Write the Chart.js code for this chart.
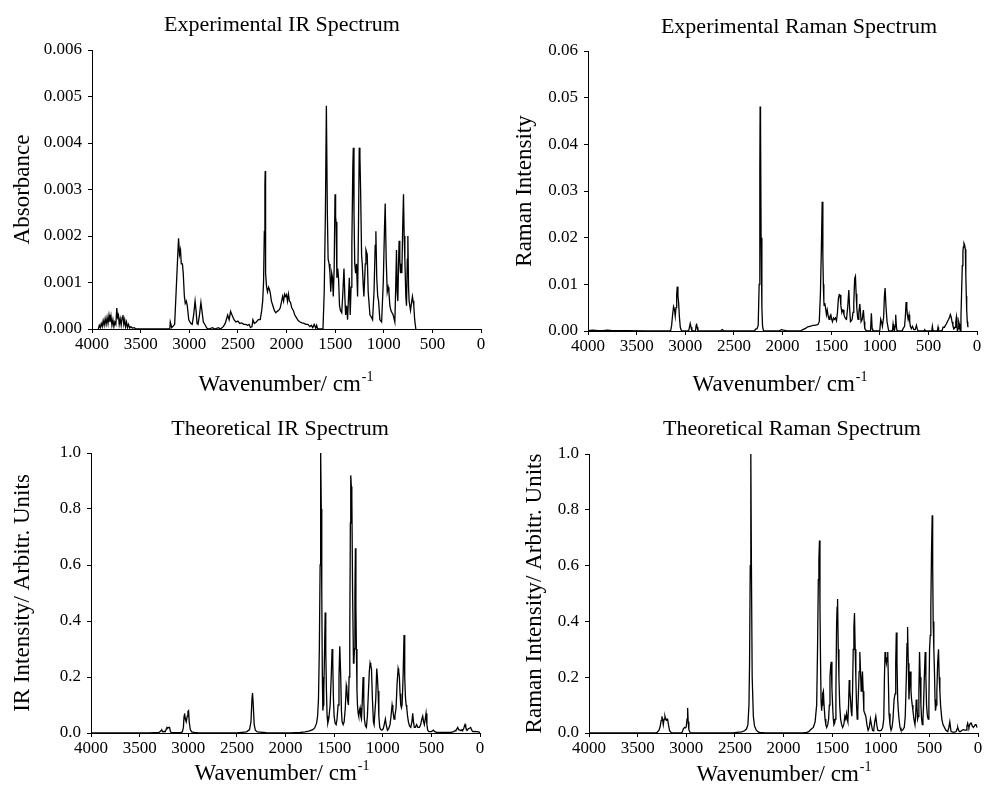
<!DOCTYPE html>
<html>
<head>
<meta charset="utf-8">
<script src="https://cdn.jsdelivr.net/npm/chart.js@4.4.1/dist/chart.umd.min.js"></script>
<style>
  body { margin: 0; background: #fff; }
  #wrap { position: relative; width: 984px; height: 792px; }
  canvas { position: absolute; }
</style>
</head>
<body>
<div id="wrap">
  <canvas id="c1" width="492" height="396" style="left:0;top:0"></canvas>
  <canvas id="c2" width="492" height="396" style="left:492px;top:0"></canvas>
  <canvas id="c3" width="492" height="396" style="left:0;top:396px"></canvas>
  <canvas id="c4" width="492" height="396" style="left:492px;top:396px"></canvas>
</div>
<script>
// x axis, shared by all four panels
var xTicks = [0, 500, 1000, 1500, 2000, 2500, 3000, 3500, 4000];
var xTickLabels = ['0', '500', '1000', '1500', '2000', '2500', '3000', '3500', '4000'];

var absTicks = [0, 0.001, 0.002, 0.003, 0.004, 0.005, 0.006];
var absTickLabels = ['0.000', '0.001', '0.002', '0.003', '0.004', '0.005', '0.006'];
var ramanTicks = [0, 0.01, 0.02, 0.03, 0.04, 0.05, 0.06];
var ramanTickLabels = ['0.00', '0.01', '0.02', '0.03', '0.04', '0.05', '0.06'];
var unitTicks = [0, 0.2, 0.4, 0.6, 0.8, 1.0];
var unitTickLabels = ['0.0', '0.2', '0.4', '0.6', '0.8', '1.0'];

var panelTitles = ['Experimental IR Spectrum', 'Experimental Raman Spectrum', 'Theoretical IR Spectrum', 'Theoretical Raman Spectrum'];
var yTitles = ['Absorbance', 'Raman Intensity', 'IR Intensity/ Arbitr. Units', 'Raman Intensity/ Arbitr. Units'];

// [wavenumber, value]
var expIrSpectrum = [
  [3935,0],[3925,0.00008],[3915,0.00003],[3905,0.00012],[3895,0.00005],[3885,0.00018],[3875,0.00008],
  [3865,0.00022],[3855,0.0001],[3845,0.00025],[3835,0.00012],[3825,0.0003],[3815,0.00015],[3805,0.00028],
  [3795,0.00008],[3785,0.0002],[3775,0.00005],[3765,0.00015],[3755,0.0001],[3745,0.00045],[3737,0.00025],
  [3728,0.0003],[3720,0.0001],[3710,0.00022],[3700,0.00008],[3690,0.00025],[3682,0.0003],[3673,0.0001],
  [3664,0.0002],[3655,0.00005],[3645,0.00015],[3635,0.00003],[3625,0.0001],[3612,0.00002],[3600,0.00005],
  [3585,0.00002],[3565,0.00003],[3550,0],
  [3200,0],[3195,0.00015],[3180,0.00003],[3150,0.0001],[3135,0.0008],[3120,0.0015],[3110,0.00195],
  [3100,0.0016],[3090,0.0017],[3082,0.0014],[3070,0.0014],[3062,0.0012],[3050,0.0007],[3041,0.00055],
  [3030,0.0006],[3020,0.0005],[3005,0.0002],[2985,0.00012],[2970,0.0001],[2955,0.0003],[2940,0.0006],
  [2930,0.0004],[2920,0.00012],[2910,0.0001],[2895,0.0003],[2880,0.00057],[2870,0.0004],[2855,0.00015],
  [2835,0.00008],[2820,0.00002],[2800,0],[2760,0.00003],[2740,0],[2700,0.00003],[2680,0],[2650,0.00005],
  [2630,0.00012],[2605,0.0003],[2590,0.0002],[2575,0.00038],[2560,0.0003],[2540,0.0002],[2520,0.00015],
  [2500,0.00017],[2480,0.00012],[2460,0.00013],[2440,0.0001],[2420,0.0001],[2400,0.00008],[2385,0.0001],
  [2370,0.00003],[2355,0.00005],[2345,0.0002],[2330,0.00012],[2310,0.00015],[2290,0.0002],[2270,0.0002],
  [2255,0.0004],[2245,0.0006],[2236,0.001],[2228,0.0021],[2222,0.0031],[2219,0.0034],[2215,0.0012],
  [2205,0.0009],[2195,0.0008],[2185,0.0009],[2175,0.00085],[2165,0.00075],[2155,0.0006],[2140,0.0005],
  [2125,0.0004],[2110,0.00035],[2095,0.00038],[2080,0.0004],[2065,0.00045],[2050,0.0006],[2040,0.0007],
  [2030,0.0006],[2020,0.00075],[2010,0.0007],[2000,0.00074],[1990,0.0006],[1980,0.00075],[1970,0.0006],
  [1960,0.00058],[1945,0.00045],[1930,0.0004],[1915,0.0003],[1900,0.00025],[1880,0.00018],[1860,0.00015],
  [1840,0.00013],[1820,0.00012],[1800,0.0001],[1780,0.0001],[1760,0.00005],[1745,0.00008],[1730,0.00003],
  [1715,0.0001],[1700,0.00002],[1690,0.00008],[1680,0],[1625,0],
  [1612,0.0008],[1600,0.0025],[1590,0.0048],[1580,0.0025],[1572,0.0015],[1562,0.0014],[1553,0.0012],
  [1545,0.0008],[1535,0.0012],[1527,0.0011],[1519,0.0007],[1510,0.0013],[1501,0.0029],[1495,0.0024],
  [1490,0.0023],[1482,0.0011],[1473,0.0013],[1465,0.0011],[1455,0.0005],[1445,0.0004],[1432,0.00035],
  [1420,0.0008],[1409,0.0013],[1400,0.0007],[1392,0.0003],[1382,0.0005],[1372,0.0002],[1362,0.0007],
  [1354,0.0011],[1345,0.0003],[1336,0.0009],[1328,0.0018],[1318,0.0035],[1313,0.0039],[1306,0.0025],
  [1298,0.0014],[1289,0.0012],[1280,0.0014],[1269,0.0007],[1260,0.0022],[1252,0.0039],[1245,0.0037],
  [1238,0.003],[1228,0.0016],[1221,0.0014],[1210,0.0009],[1204,0.0007],[1190,0.0014],[1183,0.0017],
  [1170,0.0016],[1160,0.0008],[1142,0.0003],[1125,0.00025],[1115,0.0002],[1100,0.0008],[1088,0.0018],
  [1081,0.0021],[1072,0.0011],[1062,0.0007],[1053,0.0006],[1040,0.0002],[1022,0.00015],[1005,0.001],
  [992,0.0022],[985,0.0027],[975,0.0015],[964,0.0008],[955,0.0009],[947,0.0008],[937,0.0005],[927,0.0004],
  [915,0.00035],[903,0.0003],[886,0.00015],[878,0.0008],[869,0.0017],[862,0.0008],[855,0.0006],
  [848,0.0014],[842,0.0019],[835,0.0015],[828,0.0012],[820,0.0014],[814,0.0012],[805,0.0022],[797,0.0029],
  [790,0.002],[783,0.0015],[773,0.0007],[766,0.0005],[758,0.0015],[752,0.002],[745,0.0009],[739,0.0006],
  [725,0.0004],[712,0.0006],[705,0.0007],[698,0.0006],[691,0.0005],[682,0.0002],[670,0]
];

var expRamanSpectrum = [
  [4000,0.0001],[3950,0.0002],[3900,0.0001],[3850,0.0001],[3800,0.0002],[3750,0.0001],[3700,0.0001],
  [3600,0.00005],[3400,0.00002],[3200,0.00002],[3150,0.0001],[3140,0.0012],[3130,0.0035],[3120,0.0052],
  [3110,0.0045],[3103,0.0032],[3095,0.005],[3088,0.0078],[3082,0.0095],[3075,0.0075],[3068,0.006],
  [3060,0.003],[3051,0.0008],[3040,0.0001],[2965,0],[2955,0.001],[2949,0.0016],[2940,0.0008],[2932,0],
  [2895,0],[2888,0.0012],[2884,0.0016],[2877,0.0008],[2870,0],[2640,0],[2620,0.0003],[2600,0],
  [2290,0],[2275,0.0004],[2262,0.0005],[2250,0.0012],[2240,0.01],[2233,0.035],[2230,0.0481],[2226,0.045],
  [2220,0.02],[2212,0.005],[2205,0.001],[2195,0],[2040,0],[2010,0.0003],[1990,0.0002],[1960,0.0001],
  [1900,0],[1810,0.0001],[1780,0.0004],[1760,0.0006],[1740,0.0009],[1720,0.001],[1700,0.0011],
  [1690,0.0012],[1670,0.0012],[1650,0.0013],[1635,0.0014],[1622,0.002],[1610,0.008],[1600,0.018],
  [1592,0.0277],[1585,0.016],[1580,0.01],[1575,0.0065],[1572,0.0055],[1565,0.006],[1558,0.005],
  [1548,0.0035],[1540,0.0045],[1534,0.0045],[1528,0.003],[1521,0.0025],[1512,0.0032],[1503,0.0035],
  [1494,0.0025],[1486,0.002],[1476,0.0028],[1466,0.0025],[1456,0.0028],[1445,0.0022],[1435,0.004],
  [1425,0.007],[1416,0.0078],[1408,0.0077],[1400,0.0055],[1390,0.004],[1383,0.0045],[1377,0.0045],
  [1368,0.0035],[1360,0.003],[1350,0.0026],[1342,0.0025],[1330,0.005],[1318,0.0088],[1310,0.005],
  [1301,0.002],[1292,0.0022],[1284,0.0025],[1275,0.004],[1267,0.006],[1258,0.0112],[1250,0.0117],
  [1243,0.008],[1236,0.005],[1228,0.003],[1223,0.0025],[1215,0.004],[1205,0.0058],[1198,0.004],
  [1192,0.002],[1180,0.0025],[1168,0.0045],[1160,0.002],[1154,0.0005],[1137,0],[1095,0],[1086,0.0038],
  [1078,0.0005],[1072,0],[1000,0],[990,0.0025],[980,0.0018],[973,0.001],[960,0.003],[952,0.0075],
  [945,0.0092],[935,0.005],[925,0.002],[910,0.0002],[904,0],[870,0],[863,0.0015],[855,0.0003],[849,0],
  [842,0.001],[836,0.0035],[829,0.001],[822,0],[770,0],[760,0.0005],[745,0.001],[737,0.003],[729,0.0062],
  [722,0.005],[716,0.0035],[708,0.0025],[699,0.0035],[692,0.002],[685,0.001],[675,0.0005],[664,0.001],
  [650,0.0003],[635,0.0003],[623,0.0012],[615,0.0005],[606,0],[545,0],[538,0.0003],[530,0],[465,0],
  [459,0.001],[452,0],[408,0],[401,0.0008],[395,0],[360,0],[349,0.0008],[335,0.0008],[325,0.0012],
  [315,0.0015],[305,0.002],[291,0.0025],[282,0.003],[274,0.0035],[266,0.003],[257,0.002],[248,0.0012],
  [236,0.0005],[225,0.0008],[218,0.002],[212,0.003],[206,0.0015],[202,0],[194,0.0005],[188,0.002],
  [182,0.0015],[176,0.0004],[171,0],[165,0.003],[158,0.0085],[151,0.014],[145,0.017],[140,0.018],
  [134,0.0188],[128,0.0185],[120,0.0175],[115,0.012],[110,0.0075],[106,0.0045],[100,0.002],[95,0.001],
  [89,0.0008]
];

var theoIrSpectrum = [
  [4000,0],[3400,0],[3300,0.002],[3280,0.008],[3271,0.01],[3260,0.004],[3245,0.006],[3237,0.005],
  [3225,0.015],[3219,0.02],[3210,0.018],[3200,0.02],[3192,0.02],[3185,0.008],[3175,0.001],[3080,0.001],
  [3060,0.004],[3050,0.02],[3043,0.06],[3038,0.07],[3030,0.05],[3021,0.04],[3010,0.06],[3003,0.078],
  [2997,0.08],[2990,0.04],[2979,0.012],[2965,0.004],[2940,0.002],[2900,0.001],[2700,0],[2500,0],
  [2450,0.002],[2400,0.004],[2370,0.012],[2355,0.04],[2345,0.12],[2339,0.143],[2333,0.11],[2322,0.03],
  [2310,0.01],[2290,0.004],[2230,0.002],[2200,0.001],[2100,0],[1950,0],[1900,0.001],[1849,0.002],
  [1800,0.004],[1760,0.007],[1720,0.012],[1700,0.018],[1680,0.035],[1670,0.06],[1661,0.12],[1652,0.3],
  [1644,0.6],[1640,0.9],[1637,1.0],[1632,0.8],[1627,0.5],[1621,0.2],[1616,0.08],[1611,0.1],[1606,0.15],
  [1598,0.3],[1592,0.43],[1586,0.3],[1579,0.15],[1572,0.06],[1565,0.035],[1555,0.05],[1541,0.1],
  [1530,0.2],[1521,0.3],[1514,0.25],[1507,0.12],[1500,0.06],[1490,0.035],[1479,0.03],[1470,0.05],
  [1459,0.1],[1450,0.2],[1442,0.31],[1432,0.2],[1425,0.08],[1418,0.04],[1407,0.03],[1397,0.04],
  [1385,0.09],[1375,0.17],[1370,0.16],[1362,0.12],[1353,0.1],[1346,0.2],[1339,0.35],[1333,0.75],
  [1329,0.92],[1323,0.88],[1318,0.85],[1310,0.5],[1301,0.25],[1296,0.26],[1291,0.3],[1286,0.5],
  [1281,0.66],[1276,0.45],[1271,0.3],[1265,0.15],[1260,0.1],[1253,0.07],[1247,0.06],[1240,0.08],
  [1233,0.09],[1226,0.06],[1219,0.05],[1212,0.1],[1202,0.2],[1195,0.12],[1189,0.05],[1178,0.025],
  [1168,0.02],[1158,0.06],[1147,0.15],[1138,0.22],[1130,0.25],[1123,0.24],[1116,0.23],[1106,0.12],
  [1096,0.04],[1089,0.03],[1082,0.03],[1072,0.12],[1062,0.23],[1055,0.2],[1048,0.15],[1040,0.06],
  [1031,0.02],[1020,0.012],[1010,0.01],[995,0.015],[985,0.03],[973,0.05],[965,0.03],[952,0.01],
  [940,0.015],[925,0.03],[915,0.06],[904,0.1],[896,0.08],[884,0.05],[875,0.06],[863,0.09],[852,0.18],
  [842,0.23],[836,0.22],[829,0.2],[822,0.14],[815,0.1],[808,0.09],[801,0.1],[791,0.2],[781,0.35],
  [774,0.2],[767,0.13],[760,0.1],[753,0.09],[745,0.06],[736,0.04],[725,0.025],[712,0.02],[700,0.04],
  [692,0.07],[684,0.04],[675,0.02],[665,0.02],[651,0.03],[640,0.02],[623,0.02],[610,0.03],[598,0.05],
  [589,0.06],[580,0.04],[572,0.03],[563,0.05],[555,0.07],[546,0.03],[538,0.01],[525,0.005],[500,0.005],
  [479,0.01],[465,0.005],[445,0.002],[400,0.002],[350,0.002],[300,0.002],[270,0.005],[255,0.008],
  [247,0.01],[238,0.015],[229,0.02],[220,0.012],[205,0.01],[195,0.008],[185,0.012],[178,0.01],
  [168,0.015],[160,0.025],[154,0.03],[146,0.02],[138,0.012],[130,0.01],[120,0.015],[105,0.018],
  [96,0.02],[85,0.01],[75,0.005],[55,0.006],[34,0.005],[15,0.004],[0,0.002]
];

var theoRamanSpectrum = [
  [4000,0],[3320,0],[3300,0.002],[3280,0.01],[3267,0.025],[3258,0.045],[3250,0.06],[3242,0.045],
  [3236,0.03],[3228,0.05],[3219,0.06],[3212,0.05],[3205,0.045],[3198,0.05],[3192,0.05],[3183,0.03],
  [3171,0.008],[3154,0.001],[3100,0],[3050,0.001],[3041,0.003],[3030,0.015],[3017,0.02],[3008,0.018],
  [3000,0.022],[2992,0.05],[2986,0.09],[2980,0.04],[2973,0.012],[2960,0.002],[2950,0],[2520,0],
  [2480,0.002],[2430,0.004],[2400,0.008],[2380,0.015],[2366,0.03],[2355,0.1],[2349,0.25],[2342,0.6],
  [2336,1.0],[2330,0.6],[2322,0.2],[2310,0.06],[2298,0.025],[2280,0.01],[2260,0.004],[2247,0.002],
  [2200,0.001],[2100,0],[1800,0],[1761,0.002],[1740,0.005],[1727,0.01],[1710,0.015],[1693,0.02],
  [1675,0.04],[1659,0.1],[1650,0.3],[1642,0.55],[1636,0.62],[1630,0.69],[1625,0.45],[1619,0.25],
  [1614,0.12],[1608,0.08],[1604,0.1],[1598,0.14],[1590,0.15],[1583,0.1],[1573,0.05],[1565,0.03],
  [1556,0.02],[1545,0.03],[1536,0.05],[1529,0.1],[1522,0.2],[1515,0.24],[1509,0.255],[1502,0.16],
  [1495,0.1],[1488,0.05],[1481,0.03],[1474,0.035],[1468,0.05],[1461,0.15],[1454,0.39],[1449,0.45],
  [1444,0.48],[1437,0.3],[1430,0.2],[1422,0.1],[1413,0.05],[1402,0.03],[1392,0.02],[1380,0.03],
  [1369,0.06],[1360,0.05],[1352,0.07],[1345,0.05],[1338,0.04],[1331,0.1],[1324,0.19],[1318,0.15],
  [1311,0.12],[1304,0.08],[1297,0.06],[1290,0.15],[1283,0.3],[1276,0.38],[1270,0.43],[1263,0.3],
  [1256,0.2],[1249,0.1],[1242,0.05],[1236,0.08],[1229,0.15],[1222,0.22],[1215,0.29],[1208,0.22],
  [1201,0.15],[1195,0.18],[1188,0.22],[1181,0.15],[1174,0.08],[1164,0.07],[1154,0.06],[1142,0.03],
  [1130,0.01],[1118,0.02],[1106,0.05],[1096,0.03],[1085,0.01],[1078,0.008],[1072,0.01],[1062,0.04],
  [1051,0.06],[1041,0.03],[1031,0.01],[1012,0.008],[993,0.01],[980,0.02],[969,0.05],[962,0.2],
  [956,0.29],[949,0.27],[942,0.25],[935,0.27],[928,0.29],[921,0.18],[915,0.07],[905,0.03],[894,0.01],
  [884,0.02],[874,0.05],[863,0.12],[853,0.14],[846,0.25],[840,0.36],[833,0.25],[826,0.12],[819,0.08],
  [812,0.05],[802,0.02],[792,0.01],[775,0.01],[758,0.02],[748,0.06],[737,0.2],[730,0.32],[724,0.38],
  [717,0.25],[710,0.12],[703,0.18],[696,0.22],[689,0.15],[683,0.12],[676,0.1],[669,0.08],[659,0.05],
  [648,0.03],[641,0.06],[635,0.12],[628,0.1],[621,0.05],[614,0.06],[608,0.15],[601,0.29],[594,0.2],
  [587,0.1],[580,0.05],[573,0.03],[566,0.05],[560,0.1],[552,0.2],[543,0.29],[536,0.2],[529,0.1],
  [520,0.06],[512,0.05],[505,0.12],[498,0.3],[491,0.35],[485,0.45],[478,0.65],[471,0.78],[466,0.6],
  [461,0.4],[454,0.3],[447,0.21],[442,0.12],[437,0.08],[430,0.1],[423,0.15],[415,0.25],[406,0.3],
  [399,0.2],[392,0.15],[385,0.1],[372,0.05],[360,0.03],[345,0.02],[330,0.01],[311,0.005],[300,0.02],
  [290,0.04],[283,0.02],[277,0.005],[260,0.003],[240,0.003],[225,0.005],[215,0.015],[208,0.02],
  [200,0.01],[191,0.005],[180,0.005],[164,0.01],[150,0.012],[135,0.01],[123,0.01],[114,0.025],
  [106,0.035],[100,0.025],[93,0.02],[85,0.03],[76,0.035],[68,0.035],[60,0.025],[48,0.02],[38,0.025],
  [28,0.03],[20,0.03],[10,0.02]
];

var FONT = '"Liberation Serif", "Times New Roman", serif';

// panel title and the x axis title (with superscript) drawn on the canvas
var panelText = {
  id: 'panelText',
  afterDraw: function(chart, args, o) {
    var ctx = chart.ctx;
    ctx.save();
    ctx.fillStyle = '#000';
    ctx.textBaseline = 'alphabetic';
    ctx.textAlign = 'center';
    ctx.font = '22px ' + FONT;
    ctx.fillText(o.title, o.titleX, o.titleY);

    var main = 'Wavenumber/ cm', sup = '-1';
    ctx.font = '23px ' + FONT;
    var mw = ctx.measureText(main).width;
    ctx.font = '14px ' + FONT;
    var sw = ctx.measureText(sup).width;
    var x0 = o.xTitleX - (mw + sw + 1) / 2;
    ctx.textAlign = 'left';
    ctx.font = '23px ' + FONT;
    ctx.fillText(main, x0, o.xTitleY);
    ctx.font = '14px ' + FONT;
    ctx.fillText(sup, x0 + mw + 1, o.xTitleY - 10);
    ctx.restore();
  }
};

function makePanel(id, p) {
  new Chart(document.getElementById(id), {
    type: 'line',
    data: {
      datasets: [{
        data: p.points.map(function(d) { return {x: d[0], y: d[1]}; }),
        borderColor: '#000',
        borderWidth: 1.3,
        pointRadius: 0,
        tension: 0,
        fill: false
      }]
    },
    plugins: [panelText],
    options: {
      responsive: false,
      animation: false,
      devicePixelRatio: 1,
      layout: {padding: {left: 0, right: p.padRight, top: p.top, bottom: 0}},
      plugins: {
        legend: {display: false},
        tooltip: {enabled: false},
        panelText: {title: p.title, titleX: p.titleX, titleY: p.titleY, xTitleX: p.xTitleX, xTitleY: p.xTitleY}
      },
      scales: {
        x: {
          type: 'linear', reverse: true, min: 0, max: 4000,
          afterBuildTicks: function(s) { s.ticks = xTicks.map(function(v) { return {value: v}; }); },
          afterFit: function(s) { s.height = p.xHeight; },
          ticks: {
            callback: function(v) { return xTickLabels[xTicks.indexOf(v)]; },
            color: '#000', font: {family: FONT, size: 17}, padding: 1, maxRotation: 0, autoSkip: false
          },
          grid: {drawOnChartArea: false, drawTicks: true, tickLength: 4, color: '#000'},
          border: {color: '#000', width: 1}
        },
        y: {
          type: 'linear', min: 0, max: p.yTicks[p.yTicks.length - 1],
          afterBuildTicks: function(s) { s.ticks = p.yTicks.map(function(v) { return {value: v}; }); },
          afterFit: function(s) { s.width = p.left; },
          ticks: {
            callback: function(v, i) { return p.yLabels[i]; },
            color: '#000', font: {family: FONT, size: 17}, padding: 6
          },
          grid: {drawOnChartArea: false, drawTicks: true, tickLength: 4, color: '#000'},
          border: {color: '#000', width: 1},
          title: {
            display: true, text: p.yTitle, color: '#000',
            font: {family: FONT, size: 23}, padding: {top: p.yTitlePad, bottom: 0}
          }
        }
      }
    }
  });
}

makePanel('c1', {points: expIrSpectrum, yTicks: absTicks, yLabels: absTickLabels,
  title: panelTitles[0], yTitle: yTitles[0],
  left: 92, padRight: 11, top: 50, xHeight: 67, yTitlePad: 9,
  titleX: 282, titleY: 31, xTitleX: 286, xTitleY: 391});
makePanel('c2', {points: expRamanSpectrum, yTicks: ramanTicks, yLabels: ramanTickLabels,
  title: panelTitles[1], yTitle: yTitles[1],
  left: 96, padRight: 7, top: 51, xHeight: 65, yTitlePad: 19,
  titleX: 307, titleY: 33, xTitleX: 288, xTitleY: 391});
makePanel('c3', {points: theoIrSpectrum, yTicks: unitTicks, yLabels: unitTickLabels,
  title: panelTitles[2], yTitle: yTitles[2],
  left: 91, padRight: 12, top: 57, xHeight: 59, yTitlePad: 9,
  titleX: 280, titleY: 39, xTitleX: 282, xTitleY: 384});
makePanel('c4', {points: theoRamanSpectrum, yTicks: unitTicks, yLabels: unitTickLabels,
  title: panelTitles[3], yTitle: yTitles[3],
  left: 97, padRight: 6, top: 58, xHeight: 59, yTitlePad: 29,
  titleX: 300, titleY: 39, xTitleX: 292, xTitleY: 385});
</script>
</body>
</html>
